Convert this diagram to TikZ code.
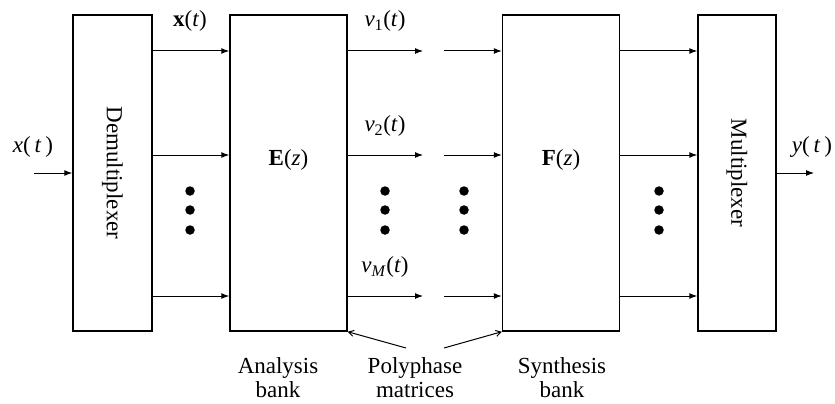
\documentclass[tikz,border=0pt]{standalone}
\usepackage{fontspec}
\setmainfont{Liberation Serif}
\usetikzlibrary{arrows.meta,calc}
\begin{document}
\begin{tikzpicture}[x=1pt,y=-1pt,
  box/.style={draw,line width=1.5pt,inner sep=0pt},
  sig/.style={line width=1pt,-{Latex[length=8pt,width=6pt]}},
  ptr/.style={line width=1pt,-{Straight Barb[length=5pt,width=6pt]}},
  lbl/.style={font=\fontsize{23}{24}\selectfont,inner sep=0pt},
  dot/.style={circle,fill=black,inner sep=0pt,minimum size=9.5pt}]
\useasboundingbox (0,0) rectangle (835,404);
\node[box,minimum width=79pt,minimum height=316pt] (dm) at (112.5,173) {};
\node[lbl,rotate=-90] (dmt) at (dm.center) {Demultiplexer};
\node[box,minimum width=117pt,minimum height=316pt] (E) at (288.5,173) {};
\node[lbl] (Et) at (288.5,160) {\textbf{E}(\textit{z})};
\node[box,minimum width=117pt,minimum height=316pt] (F) at (561,173) {};
\node[lbl] (Ft) at (561,160) {\textbf{F}(\textit{z})};
\node[box,minimum width=78pt,minimum height=316pt] (mx) at (737,173) {};
\node[lbl,rotate=-90] (mxt) at (mx.center) {Multiplexer};
% row coordinates
\coordinate (r1) at (0,51);
\coordinate (r2) at (0,155);
\coordinate (r3) at (0,296);
\coordinate (a1) at (423,51);
\coordinate (a2) at (423,155);
\coordinate (a3) at (423,296);
\coordinate (b1) at (444,51);
\coordinate (b2) at (444,155);
\coordinate (b3) at (444,296);
\coordinate (in) at (34,173);
\coordinate (out) at (814,173);
% arrows
\draw[sig] (in) -- (dm.west |- in);
\draw[sig] (mx.east |- out) -- (out);
\foreach \r in {1,2,3}{
  \draw[sig] (dm.east |- r\r) -- (E.west |- r\r);
  \draw[sig] (E.east |- r\r) -- (a\r);
  \draw[sig] (b\r) -- (F.west |- r\r);
  \draw[sig] (F.east |- r\r) -- (mx.west |- r\r);
}
% dots
\foreach \x/\n in {190/d1,385/d2,464/d3,659/d4}{
  \node[dot] (\n a) at (\x,191) {};
  \node[dot] (\n b) at (\x,210) {};
  \node[dot] (\n c) at (\x,230) {};
}
% labels
\node[lbl] (xin) at (33,147) {\textit{x}(\,\textit{t}\,)};
\node[lbl] (yout) at (812,147) {\textit{y}(\,\textit{t}\,)};
\node[lbl] (xt) at (190,21) {\textbf{x}(\textit{t})};
\node[lbl] (v1) at (385,21) {\textit{v}\textsubscript{1}(\textit{t})};
\node[lbl] (v2) at (385,126) {\textit{v}\textsubscript{2}(\textit{t})};
\node[lbl] (vM) at (385,267) {\textit{v}\textsubscript{\textit{M}}(\textit{t})};
\node[lbl,align=center] (an) at (278,378) {Analysis\\bank};
\node[lbl,align=center] (pp) at (415,378) {Polyphase\\matrices};
\node[lbl,align=center] (sy) at (562,378) {Synthesis\\bank};
\coordinate (p1) at (406,348);
\coordinate (p2) at (444,348);
\draw[ptr] (p1) -- (E.south east);
\draw[ptr] (p2) -- (F.south west);
\end{tikzpicture}
\end{document}
